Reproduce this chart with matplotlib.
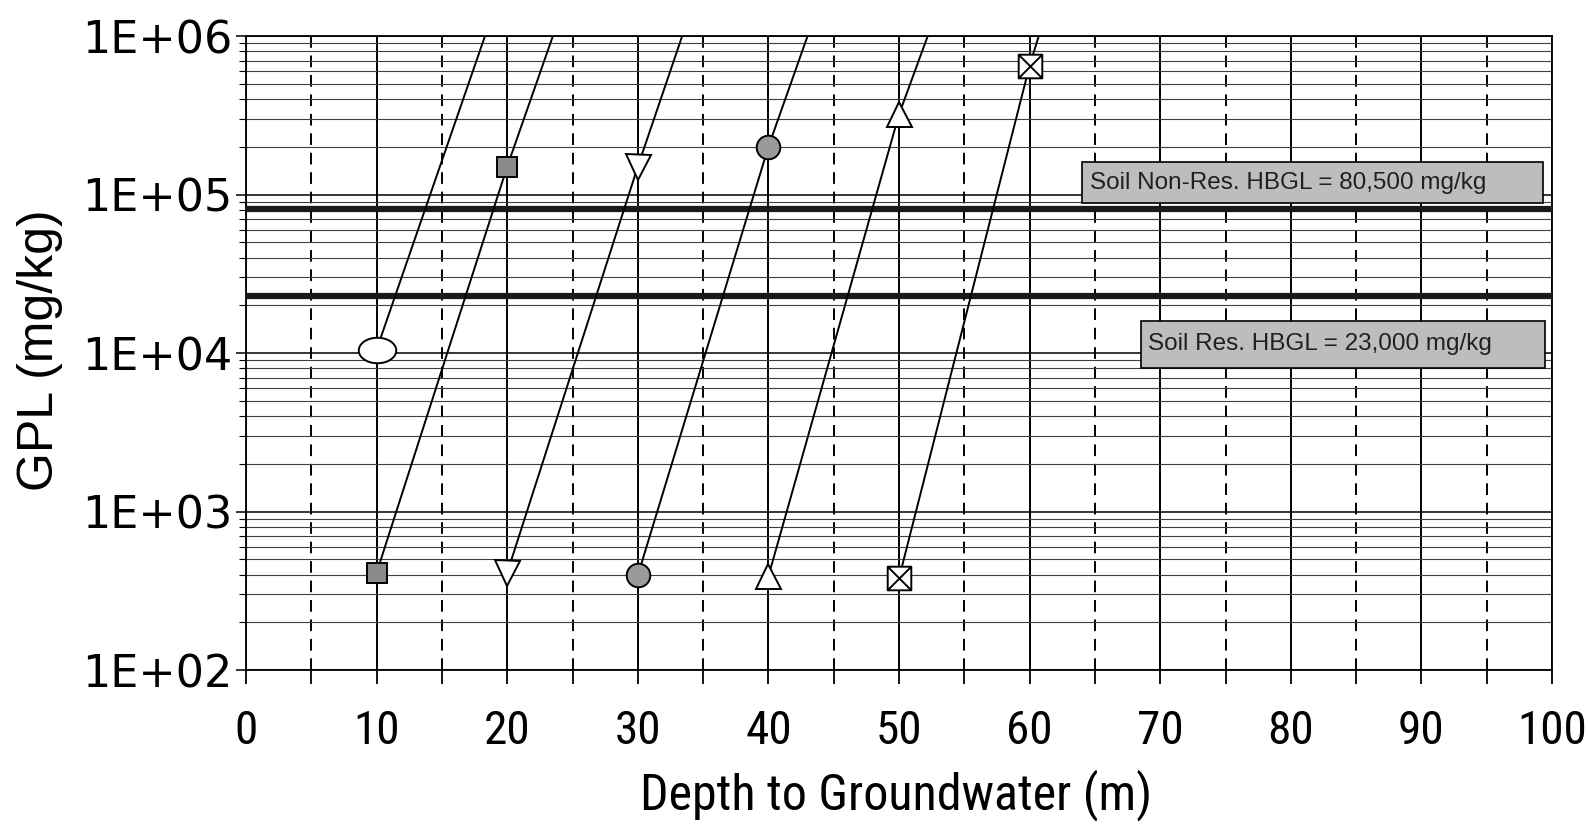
import numpy as np
import matplotlib
matplotlib.use("Agg")
import matplotlib.pyplot as plt
from matplotlib.path import Path
from matplotlib.patches import Rectangle
from matplotlib import font_manager as fm
from matplotlib.ticker import FixedLocator, FuncFormatter, NullFormatter, LogLocator

# ================= DATA =======================================
depth_ticks = [0, 10, 20, 30, 40, 50, 60, 70, 80, 90, 100]
gpl_decades = [1e2, 1e3, 1e4, 1e5, 1e6]

# each curve: depth (m) vs GPL (mg/kg); last point is where the curve leaves the top
ellipse_x = [10, 18.3]
ellipse_y = [1.05e4, 1e6]
square_x = [10, 20, 23.5]
square_y = [410, 1.5e5, 1e6]
tri_down_x = [20, 30, 33.4]
tri_down_y = [410, 1.5e5, 1e6]
circle_x = [30, 40, 43.0]
circle_y = [395, 2.0e5, 1e6]
tri_up_x = [40, 50, 52.2]
tri_up_y = [390, 3.2e5, 1e6]
xsquare_x = [50, 60, 60.7]
xsquare_y = [380, 6.5e5, 1e6]

hbgl_values = [80500, 23000]
hbgl_labels = ["Soil Non-Res. HBGL = 80,500 mg/kg", "Soil Res. HBGL = 23,000 mg/kg"]

# ================= FONTS ===================
names = {f.name for f in fm.fontManager.ttflist}
narrow = "Liberation Sans"
tick_size, title_size = 30, 32
for cand in ["Liberation Sans Narrow", "Roboto Condensed", "Open Sans Condensed", "DejaVu Sans Condensed"]:
    if cand in names:
        narrow, tick_size, title_size = cand, 34, 36
        break

# ================= MARKERS ===================
t = np.linspace(0, 2 * np.pi, 60)
ellipse_marker = Path(np.column_stack([np.cos(t), 0.68 * np.sin(t)]), closed=True)
xsq_verts = [(-1, -1), (1, -1), (1, 1), (-1, 1), (-1, -1),
             (-1, -1), (1, 1), (-1, 1), (1, -1)]
xsq_codes = [Path.MOVETO, Path.LINETO, Path.LINETO, Path.LINETO, Path.CLOSEPOLY,
             Path.MOVETO, Path.LINETO, Path.MOVETO, Path.LINETO]
xsquare_marker = Path(xsq_verts, xsq_codes)

# ================= FIGURE ===================
W, H = 1588, 830
fig = plt.figure(figsize=(W / 100, H / 100), dpi=100)
ax = fig.add_axes([246 / W, 1 - 670 / H, (1552 - 246) / W, (670 - 36) / H])

ax.set_yscale("log")
ax.set_xlim(0, 100)
ax.set_ylim(1e2, 1e6)

# grid: solid every 10 m, dashed every 5 m, decades + log minors
ax.xaxis.set_major_locator(FixedLocator(depth_ticks))
ax.xaxis.set_minor_locator(FixedLocator([d + 5 for d in depth_ticks[:-1]]))
ax.yaxis.set_major_locator(FixedLocator(gpl_decades))
ax.yaxis.set_minor_locator(LogLocator(base=10, subs=np.arange(2, 10)))
ax.yaxis.set_major_formatter(FuncFormatter(lambda v, p: f"{v:.0E}"))
ax.yaxis.set_minor_formatter(NullFormatter())

ax.set_axisbelow(True)
ax.grid(which="major", axis="x", color="black", lw=1.4)
ax.grid(which="minor", axis="x", color="black", lw=1.4, ls=(0, (6, 4)))
ax.grid(which="major", axis="y", color="black", lw=1.1)
ax.grid(which="minor", axis="y", color="0.25", lw=0.8)

for s in ax.spines.values():
    s.set_linewidth(1.3)

ax.tick_params(axis="x", which="both", direction="out", length=10, width=1.3, pad=18)
ax.tick_params(axis="y", which="major", direction="out", length=7, width=1.1, pad=3)
ax.tick_params(axis="y", which="minor", direction="out", length=5, width=0.8)
for lab in ax.get_xticklabels():
    lab.set_fontfamily(narrow)
    lab.set_fontsize(tick_size)
for lab in ax.get_yticklabels():
    lab.set_fontfamily("DejaVu Sans")
    lab.set_fontsize(32)

# ================= HBGL LINES + BOXES ===================
for v in hbgl_values:
    ax.axhline(v, color="#1a1a1a", lw=4.5, zorder=3)

boxes = [(64.0, 99.3, 8.8e4, 1.6e5), (68.5, 99.5, 8.1e3, 1.6e4)]
for (x0, x1, y0, y1), label in zip(boxes, hbgl_labels):
    ax.add_patch(Rectangle((x0, y0), x1 - x0, y1 - y0, facecolor="#bdbdbd",
                           edgecolor="black", lw=1.2, zorder=5))
    ax.text(x0 + 0.6, np.sqrt(y0 * y1), label, fontsize=17.5, family="Liberation Sans",
            color="#202020", va="center", ha="left", zorder=6)

# ================= CURVES ===================
line_kw = dict(color="black", lw=1.4, mec="black", mew=1.4, zorder=4)
ax.plot(ellipse_x, ellipse_y, marker=ellipse_marker, ms=27, mfc="white", markevery=[0], **line_kw)
ax.plot(square_x, square_y, marker="s", ms=15, mfc="#8a8a8a", markevery=[0, 1], **line_kw)
ax.plot(tri_down_x, tri_down_y, marker="v", ms=18, mfc="white", markevery=[0, 1], **line_kw)
ax.plot(circle_x, circle_y, marker="o", ms=17, mfc="#9a9a9a", markevery=[0, 1], **line_kw)
ax.plot(tri_up_x, tri_up_y, marker="^", ms=18, mfc="white", markevery=[0, 1], **line_kw)
ax.plot(xsquare_x, xsquare_y, marker=xsquare_marker, ms=17, mfc="white", markevery=[0, 1], **line_kw)

# ================= AXIS TITLES ===================
fig.text(40 / W, 1 - 350 / H, "GPL (mg/kg)", rotation=90, ha="center", va="center",
         fontsize=36, family="Liberation Sans")
fig.text(896 / W, 1 - 795 / H, "Depth to Groundwater (m)", ha="center", va="center",
         fontsize=title_size, family=narrow)

fig.savefig("out.png", dpi=100)
